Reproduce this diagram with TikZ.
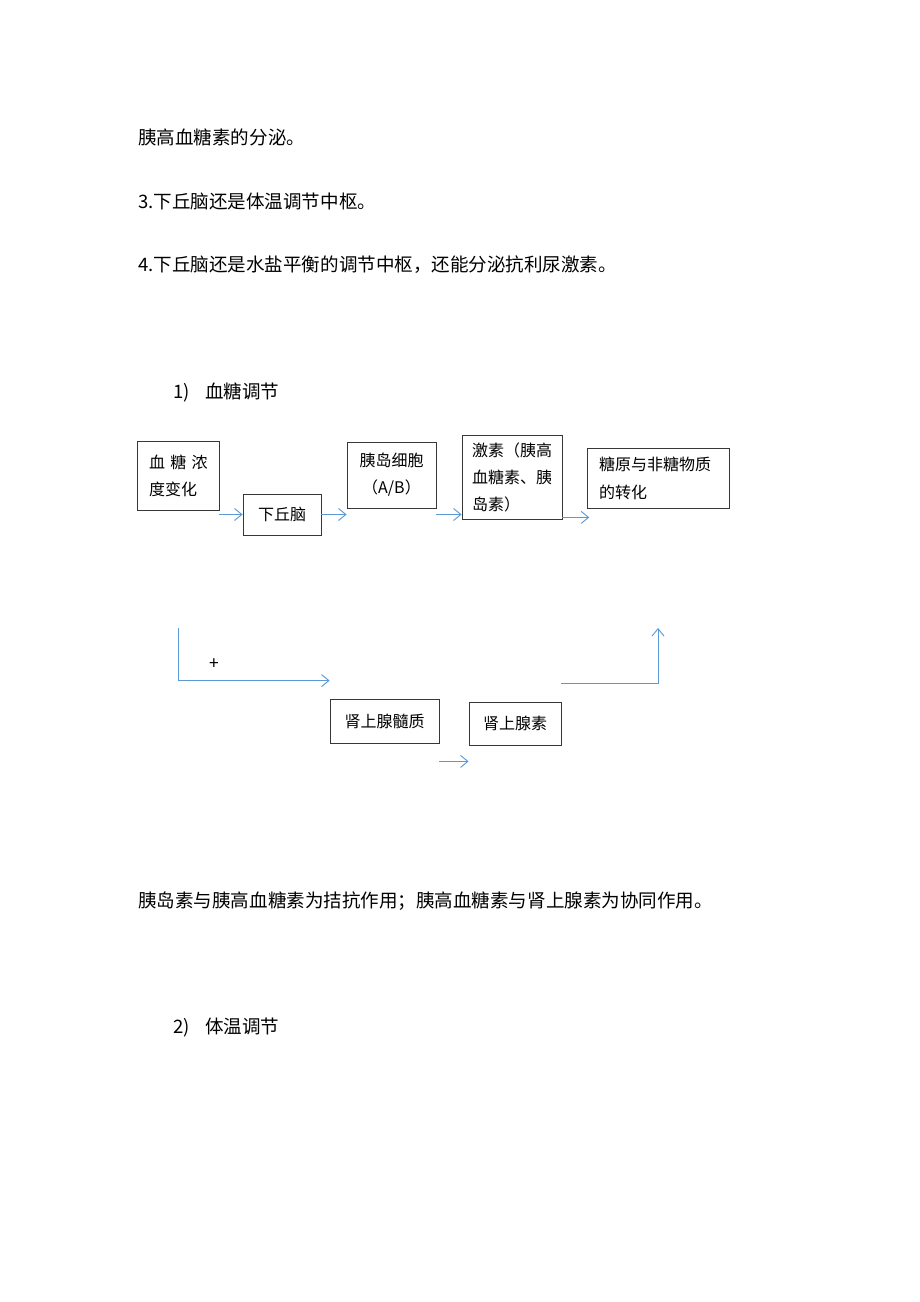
\documentclass[tikz,border=0pt]{standalone}
\usepackage{fontspec}
\setmainfont{Noto Sans CJK SC}
\usetikzlibrary{arrows.meta}
\newlength\pxl
\setlength\pxl{0.75pt}
\definecolor{arrblue}{RGB}{91,155,213}
\definecolor{boxgray}{RGB}{55,55,55}
\begin{document}
\begin{tikzpicture}[x=0.75pt,y=-0.75pt,
  body/.style={anchor=west,inner sep=0pt,font=\fontsize{13.9pt}{16pt}\selectfont},
  box/.style={draw=boxgray,line width=0.6pt,inner ysep=0pt,font=\fontsize{12pt}{20.25pt}\selectfont},
  arr/.style={draw=arrblue,line width=0.7pt,-{Straight Barb[length=5.5pt,width=9pt]}},
]
\fill[white] (0,0) rectangle (920,1302);
\useasboundingbox (0,0) rectangle (920,1302);

% body text
\node[body] (t1) at (138,137) {胰高血糖素的分泌。};
\node[body] (t2) at (138,201) {3.下丘脑还是体温调节中枢。};
\node[body] (t3) at (138,265) {4.下丘脑还是水盐平衡的调节中枢，还能分泌抗利尿激素。};
\node[body] (h1) at (173,392) {\makebox[32\pxl][l]{1)}血糖调节};
\node[body] (t4) at (138,901) {胰岛素与胰高血糖素为拮抗作用；胰高血糖素与肾上腺素为协同作用。};
\node[body] (h2) at (173,1028) {\makebox[32\pxl][l]{2)}体温调节};

% boxes
\node[box,minimum width=82*\pxl,minimum height=69*\pxl,text width=62*\pxl,inner xsep=10*\pxl,align=left] (b1) at (178,475.5) {\hspace*{2\pxl}\mbox{血\hspace{4pt}糖\hspace{4pt}浓}\\\hspace*{2\pxl}度变化};
\node[box,minimum width=78*\pxl,minimum height=41*\pxl] (b2) at (282,514.5) {下丘脑};
\node[box,minimum width=89*\pxl,minimum height=66*\pxl,align=center] (b3) at (391.5,475) {胰岛细胞\\（A/B）};
\node[box,minimum width=100*\pxl,minimum height=84*\pxl,text width=80*\pxl,inner xsep=10*\pxl,align=left] (b4) at (512,477) {\raisebox{-3\pxl}{激素（胰高}\\\raisebox{-3\pxl}{血糖素、胰}\\\raisebox{-3\pxl}{岛素）}};
\node[box,minimum width=142*\pxl,minimum height=60*\pxl,text width=118*\pxl,inner xsep=12*\pxl,align=left,font=\fontsize{12pt}{21pt}\selectfont] (b5) at (658,478) {\raisebox{-3\pxl}{糖原与非糖物质}\\\raisebox{-3\pxl}{的转化}};
\node[box,minimum width=109*\pxl,minimum height=44*\pxl] (b6) at (384.5,721) {肾上腺髓质};
\node[box,minimum width=92*\pxl,minimum height=43*\pxl] (b7) at (515,723.5) {肾上腺素};

% top arrows
\draw[arr] (b1.east |- b2.west) -- (b2.west);
\draw[arr] (b2.east) -- (b2.east -| b3.west);
\draw[arr] (b3.east |- b2.east) -- (b4.west |- b2.east);
\coordinate (a4s) at ([yshift=1.5pt]b4.south east);
\draw[arr] (a4s) -- ([xshift=2pt]a4s -| b5.west);

% lower path
\coordinate (lstart) at (178,628);
\coordinate (lend) at ([yshift=13.5pt]b6.north west);
\draw[arr] (lstart) |- (lend);
\node[inner sep=0pt,font=\fontsize{13pt}{14pt}\selectfont] (plus) at (214,664) {+};
\coordinate (a5s) at ([yshift=-13.5pt]b6.south east);
\draw[arr] (a5s) -- (a5s -| b7.west);
\coordinate (rs) at ([yshift=13.5pt]b7.north east);
\coordinate (rend) at (658,628);
\draw[arr] (rs) -| (rend);
\end{tikzpicture}
\end{document}
